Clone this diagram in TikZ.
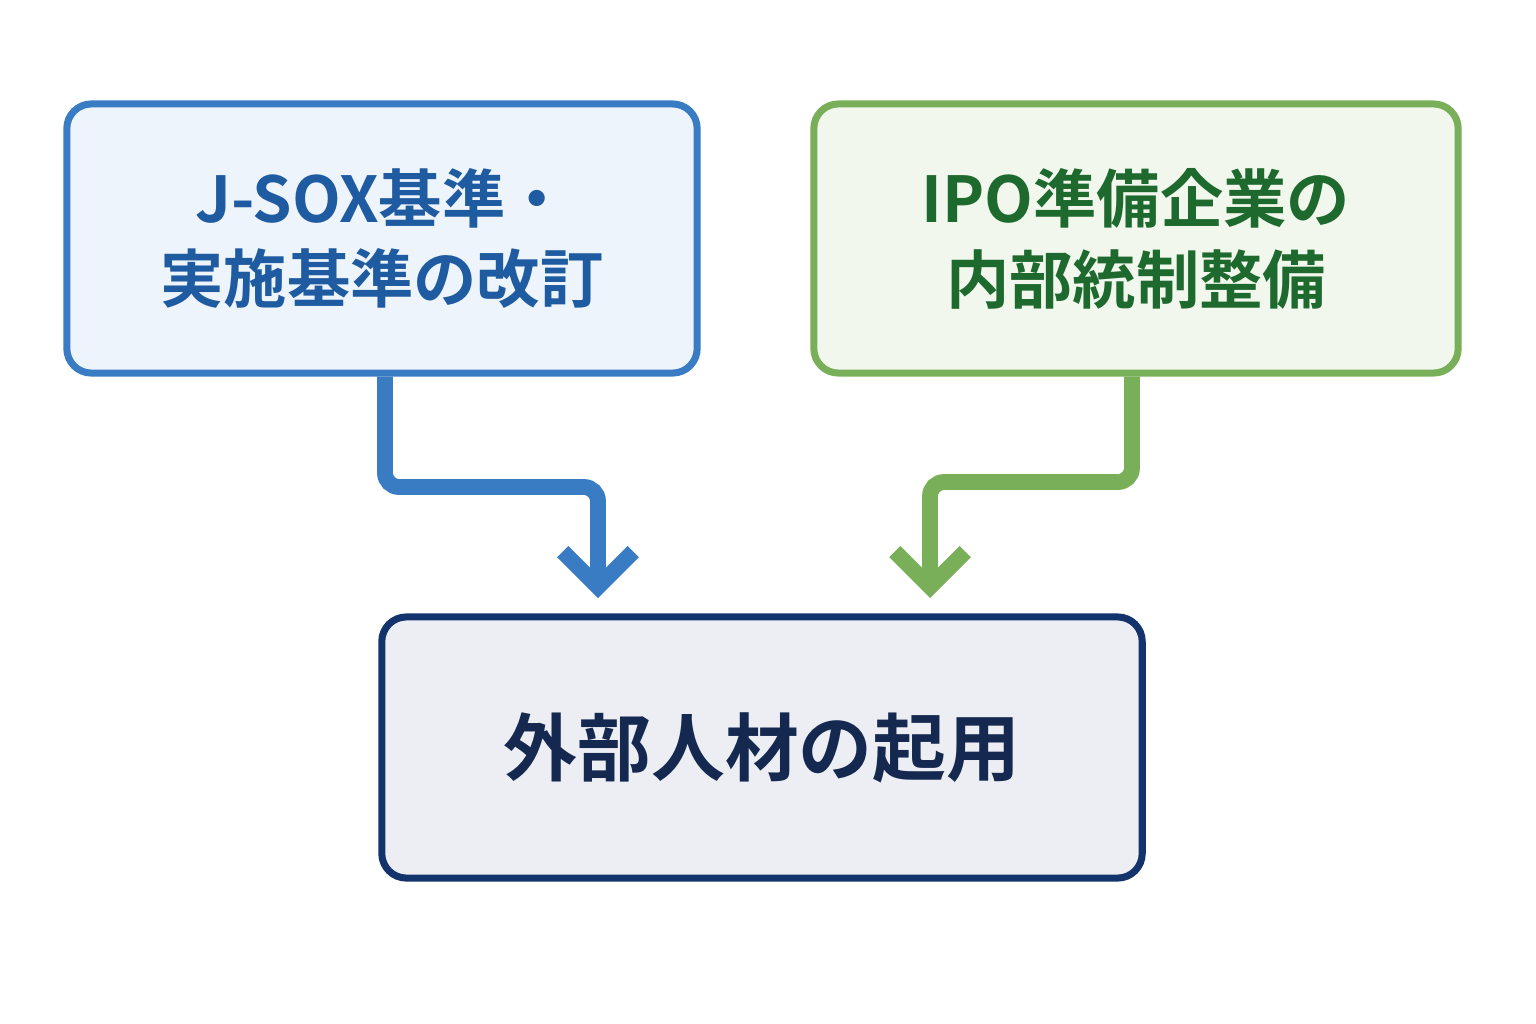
\documentclass[tikz,border=0pt]{standalone}
\usepackage{fontspec}
\setmainfont{Noto Sans CJK JP}[BoldFont={* Bold}]
\usetikzlibrary{arrows.meta,positioning}
\definecolor{bluel}{HTML}{3A7CC4}
\definecolor{bluef}{HTML}{EEF4FC}
\definecolor{bluet}{HTML}{1F5BA0}
\definecolor{greenl}{HTML}{7AAF5A}
\definecolor{greenf}{HTML}{F1F7EC}
\definecolor{greent}{HTML}{1E6A2E}
\definecolor{navyl}{HTML}{12336B}
\definecolor{navyf}{HTML}{ECEEF3}
\definecolor{navyt}{HTML}{142850}
\tikzset{
  box/.style={rectangle,rounded corners=7pt,line width=2pt,align=center,
    font=\fontsize{18}{23}\selectfont\bfseries},
  flow/.style={line width=4.5pt,rounded corners=4pt,
    -{Straight Barb[length=10pt,width=20pt,line width=4.5pt]}}
}
\begin{document}
\begin{tikzpicture}[x=0.01cm,y=-0.01cm]
\useasboundingbox[fill=white] (0,0) rectangle (1536,1024);
% boxes
\node[box,draw=bluel,fill=bluef,text=bluet,minimum width=6.3cm,minimum height=2.69cm]
  (sox) at (382,238.5) {J-SOX基準・\\実施基準の改訂};
\node[box,draw=greenl,fill=greenf,text=greent,minimum width=6.44cm,minimum height=2.69cm]
  (ipo) at (1136,238.5) {IPO準備企業の\\内部統制整備};
\node[box,draw=navyl,fill=navyf,text=navyt,minimum width=7.6cm,minimum height=2.61cm,
  font=\fontsize{21}{26}\selectfont\bfseries]
  (ext) at (762,747.5) {外部人材の起用};
% arrows
\coordinate (bend1) at (385,487);
\coordinate (bend2) at (1132,482);
\coordinate (in1) at (598,598);
\coordinate (in2) at (930,598);
\draw[flow,draw=bluel] (sox.south -| bend1) -- (bend1) -| (in1);
\draw[flow,draw=greenl] (ipo.south -| bend2) -- (bend2) -| (in2);
\end{tikzpicture}
\end{document}
